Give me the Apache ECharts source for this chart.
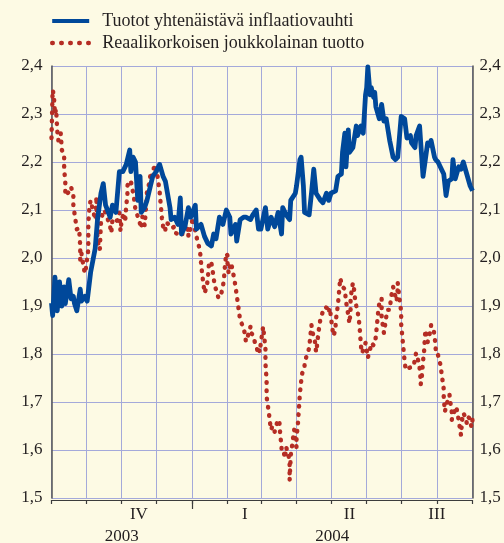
<!DOCTYPE html>
<html><head><meta charset="utf-8">
<script src="https://cdn.jsdelivr.net/npm/echarts@6/dist/echarts.min.js"></script>
<style>html,body{margin:0;padding:0;background:#fdfae4}#c{width:504px;height:543px}</style>
</head><body><div id="c"></div>
<script>
// ---- data ----
const startDate = '2003-09-01';
const dayCount = 367; // 2003-09-01 .. 2004-09-01
const seriesNames = ['Tuotot yhtenäistävä inflaatiovauhti', 'Reaalikorkoisen joukkolainan tuotto'];

// day offsets from startDate
const blueDays = [0,1,3,5,7,9,11,12,15,17,19,20,22,25,26,29,31,34,38,40,43,45,47,51,53,56,59,62,65,68,69,71,73,75,77,78,81,83,86,88,91,94,97,99,103,104,107,110,112,113,116,119,121,125,126,130,133,136,139,141,143,146,149,152,155,156,160,161,164,167,169,173,175,178,180,182,186,188,191,194,197,200,201,204,207,208,212,213,216,217,219,220,224,226,228,230,234,236,239,241,243,247,249,252,253,255,256,258,259,262,265,266,269,271,273,274,275,277,278,280,281,282,285,287,289,291,294,297,299,301,304,307,309,312,313,316,317,320,321,323,325,327,329,330,333,334,336,339,341,343,345,348,349,351,354,356,358,361,364,366];
const blueValues = [1.906,1.88,1.96,1.89,1.95,1.90,1.94,1.905,1.955,1.915,1.92,1.905,1.89,1.935,1.91,1.92,1.91,1.97,2.02,2.08,2.135,2.155,2.11,2.085,2.11,2.095,2.18,2.18,2.195,2.225,2.18,2.21,2.20,2.12,2.17,2.095,2.105,2.12,2.15,2.17,2.18,2.195,2.17,2.16,2.105,2.08,2.085,2.07,2.125,2.05,2.065,2.105,2.085,2.11,2.06,2.07,2.045,2.03,2.025,2.05,2.04,2.085,2.07,2.10,2.085,2.05,2.07,2.035,2.08,2.085,2.085,2.08,2.09,2.10,2.06,2.06,2.105,2.06,2.085,2.065,2.095,2.05,2.105,2.09,2.08,2.12,2.135,2.15,2.205,2.21,2.15,2.095,2.09,2.135,2.185,2.135,2.12,2.115,2.135,2.12,2.135,2.14,2.17,2.175,2.22,2.26,2.19,2.267,2.22,2.23,2.275,2.255,2.275,2.26,2.34,2.355,2.398,2.34,2.355,2.335,2.345,2.315,2.29,2.32,2.285,2.29,2.245,2.21,2.205,2.21,2.295,2.29,2.25,2.255,2.24,2.23,2.255,2.275,2.24,2.17,2.205,2.24,2.235,2.245,2.21,2.205,2.20,2.185,2.175,2.13,2.16,2.165,2.205,2.165,2.19,2.185,2.20,2.175,2.15,2.14];

const redDays = [0,1,2,3,4,5,6,8,9,11,11,12,12,13,16,17,19,19,20,22,24,25,25,26,28,29,30,31,32,32,33,34,36,38,39,39,40,42,43,45,47,51,52,53,55,58,59,60,61,63,64,65,66,66,67,69,71,72,73,76,78,79,80,81,82,83,85,86,86,88,90,91,92,93,94,95,96,97,99,99,101,104,107,108,110,112,113,116,119,119,122,123,125,127,129,130,131,132,133,134,135,136,137,139,140,141,142,144,145,147,148,149,150,151,152,153,153,154,155,156,157,159,160,161,162,163,164,165,166,168,169,171,173,173,175,177,179,180,181,182,183,184,185,186,186,187,187,188,189,190,191,192,193,194,195,196,198,199,200,200,202,203,204,206,207,207,208,209,210,211,212,213,213,214,215,216,217,218,220,220,222,224,225,226,227,229,230,231,232,233,234,236,238,240,241,242,243,244,245,247,247,248,249,250,251,252,253,255,256,258,259,260,260,261,262,263,264,265,267,268,269,270,272,273,274,275,277,278,280,281,282,283,284,285,287,287,288,289,290,291,292,294,295,296,297,299,300,301,301,302,303,304,304,305,306,307,308,310,313,315,316,317,319,320,321,321,322,323,324,325,326,327,328,329,330,332,333,334,334,336,338,339,340,341,341,342,343,345,346,347,348,348,349,351,352,353,354,355,356,357,358,360,361,362,364,365,366];
const redValues = [2.25,2.35,2.34,2.30,2.31,2.265,2.245,2.26,2.225,2.215,2.185,2.16,2.13,2.13,2.14,2.148,2.13,2.11,2.093,2.06,2.062,2.023,1.996,2.01,1.98,1.968,1.98,2.0,2.017,2.07,2.107,2.12,2.10,2.08,2.114,2.128,2.037,2.017,2.075,2.10,2.095,2.065,2.052,2.08,2.075,2.08,2.094,2.056,2.08,2.094,2.075,2.11,2.13,2.15,2.16,2.16,2.135,2.12,2.10,2.08,2.062,2.086,2.086,2.068,2.10,2.138,2.156,2.173,2.165,2.18,2.195,2.19,2.173,2.156,2.138,2.11,2.083,2.066,2.055,2.072,2.072,2.062,2.065,2.052,2.05,2.045,2.05,2.05,2.062,2.045,2.072,2.093,2.055,2.035,2.017,1.99,1.965,1.948,1.927,1.925,1.94,1.96,1.992,1.99,1.975,1.958,1.94,1.93,1.917,1.92,1.923,1.94,1.958,1.99,2.01,2.005,1.99,1.968,1.98,1.99,1.98,1.955,1.94,1.923,1.906,1.888,1.87,1.865,1.86,1.844,1.826,1.84,1.857,1.845,1.84,1.823,1.808,1.815,1.804,1.823,1.84,1.857,1.835,1.81,1.78,1.746,1.711,1.694,1.677,1.656,1.642,1.65,1.653,1.638,1.638,1.656,1.663,1.627,1.61,1.594,1.594,1.583,1.606,1.59,1.573,1.537,1.589,1.606,1.625,1.642,1.62,1.606,1.63,1.646,1.683,1.719,1.742,1.76,1.771,1.781,1.798,1.812,1.836,1.86,1.845,1.826,1.804,1.82,1.844,1.86,1.877,1.888,1.898,1.895,1.886,1.896,1.875,1.857,1.838,1.85,1.866,1.885,1.902,1.93,1.958,1.958,1.94,1.935,1.91,1.881,1.864,1.89,1.916,1.933,1.948,1.935,1.913,1.9,1.877,1.852,1.817,1.802,1.815,1.823,1.808,1.792,1.81,1.823,1.818,1.823,1.836,1.862,1.888,1.906,1.916,1.877,1.86,1.844,1.86,1.877,1.892,1.892,1.913,1.93,1.94,1.92,1.91,1.935,1.948,1.927,1.906,1.888,1.862,1.836,1.81,1.784,1.767,1.77,1.773,1.775,1.792,1.802,1.785,1.771,1.745,1.737,1.755,1.785,1.808,1.85,1.84,1.825,1.833,1.845,1.86,1.855,1.836,1.817,1.8,1.798,1.779,1.762,1.744,1.727,1.71,1.68,1.69,1.708,1.715,1.695,1.679,1.663,1.675,1.683,1.69,1.675,1.663,1.646,1.631,1.663,1.677,1.668,1.656,1.669,1.665,1.648,1.663];

// axis labels: [text, period start, period end]
const quarterLabels = [['IV','2003-10-01','2004-01-01'],['I','2004-01-01','2004-04-01'],['II','2004-04-01','2004-07-01'],['III','2004-07-01','2004-10-01']];
const yearLabels = [['2003','2003-09-01','2004-01-01'],['2004','2004-01-01','2004-10-01']];
const yMin = 1.5, yMax = 2.4, yStep = 0.1;

// ---- build ----
const categories = [];
const t0 = Date.UTC(2003, 8, 1);
for (let i = 0; i < dayCount; i++) {
  categories.push(new Date(t0 + i * 86400000).toISOString().slice(0, 10));
}
function idxOf(s) {
  const i = categories.indexOf(s);
  return i < 0 ? categories.length - 1 : i;
}
function labelMap(list) {
  const m = {};
  list.forEach(([txt, s, e]) => { m[Math.round((idxOf(s) + idxOf(e)) / 2)] = txt; });
  return m;
}
const qAt = labelMap(quarterLabels);
const yAt = labelMap(yearLabels);

const FONT = '"Liberation Serif", "DejaVu Serif", serif';
const TXT = '#231f20';
const GRID = '#a4a9da';
const AX = '#3c3c3c';
const BLUE = '#00489a';
const RED = '#b52d24';
const blueLine = { color: BLUE, width: 4.8, join: 'round' };
const redLine = { color: RED, width: 4.4, type: [0.6, 7.7], cap: 'round', join: 'round' };

const chart = echarts.init(document.getElementById('c'), null, { renderer: 'canvas' });
const fmtY = v => v.toFixed(1).replace('.', ',');

chart.setOption({
  animation: false,
  backgroundColor: '#fdfae4',
  grid: { left: 51.5, right: 31.5, top: 66, bottom: 45, containLabel: false, outerBoundsMode: 'none' },
  legend: {
    orient: 'vertical', left: 45, top: 7,
    itemWidth: 37, itemHeight: 14, itemGap: 4,
    itemStyle: { color: 'rgba(0,0,0,0)', borderWidth: 0, opacity: 0 },
    textStyle: { fontFamily: FONT, fontSize: 18, color: TXT, padding: [0, 0, 0, 8] },
    data: [
      { name: seriesNames[0], lineStyle: Object.assign({}, blueLine, { width: 4 }) },
      { name: seriesNames[1], lineStyle: Object.assign({}, redLine, { type: [0.6, 8.4] }) }
    ]
  },
  xAxis: [
    {
      type: 'category', data: categories, boundaryGap: false, position: 'bottom', offset: 2,
      axisLine: { show: true, lineStyle: { color: AX, width: 1.2 } },
      axisTick: { show: true, length: 4, interval: (i, v) => categories[i].endsWith('-01'), lineStyle: { color: AX, width: 1.2 } },
      axisLabel: { interval: (i) => qAt[i] !== undefined, formatter: (v, i) => qAt[i] || '', fontFamily: FONT, fontSize: 17, color: TXT, margin: 6 },
      splitLine: { show: true, interval: (i, v) => categories[i].endsWith('-01'), lineStyle: { color: GRID, width: 1 } }
    },
    {
      type: 'category', data: categories, boundaryGap: false, position: 'bottom', offset: 2,
      axisLine: { show: false },
      axisTick: { show: true, length: 9, interval: (i, v) => categories[i].endsWith('-01-01'), lineStyle: { color: AX, width: 1.2 } },
      axisLabel: { interval: (i) => yAt[i] !== undefined, formatter: (v, i) => yAt[i] || '', fontFamily: FONT, fontSize: 17, color: TXT, margin: 28 },
      splitLine: { show: false }
    }
  ],
  yAxis: [
    {
      type: 'value', position: 'left', min: yMin, max: yMax, interval: yStep,
      axisLine: { show: true, lineStyle: { color: '#555', width: 1.5 } },
      axisTick: { show: false },
      axisLabel: { formatter: fmtY, fontFamily: FONT, fontSize: 17, color: TXT, margin: 9 },
      splitLine: { show: true, lineStyle: { color: GRID, width: 1 } }
    },
    {
      type: 'value', position: 'right', min: yMin, max: yMax, interval: yStep,
      axisLine: { show: true, lineStyle: { color: '#555', width: 1.5 } },
      axisTick: { show: false },
      axisLabel: { formatter: fmtY, fontFamily: FONT, fontSize: 17, color: TXT, margin: 7 },
      splitLine: { show: false }
    }
  ],
  series: [
    {
      name: seriesNames[1], type: 'line', xAxisIndex: 0, yAxisIndex: 0, symbol: 'none', z: 2,
      data: redDays.map((d, i) => [d, redValues[i]]),
      itemStyle: { color: RED },
      lineStyle: redLine
    },
    {
      name: seriesNames[0], type: 'line', xAxisIndex: 0, yAxisIndex: 0, symbol: 'none', z: 3,
      data: blueDays.map((d, i) => [d, blueValues[i]]),
      itemStyle: { color: BLUE },
      lineStyle: blueLine
    }
  ]
});
</script>
</body></html>
